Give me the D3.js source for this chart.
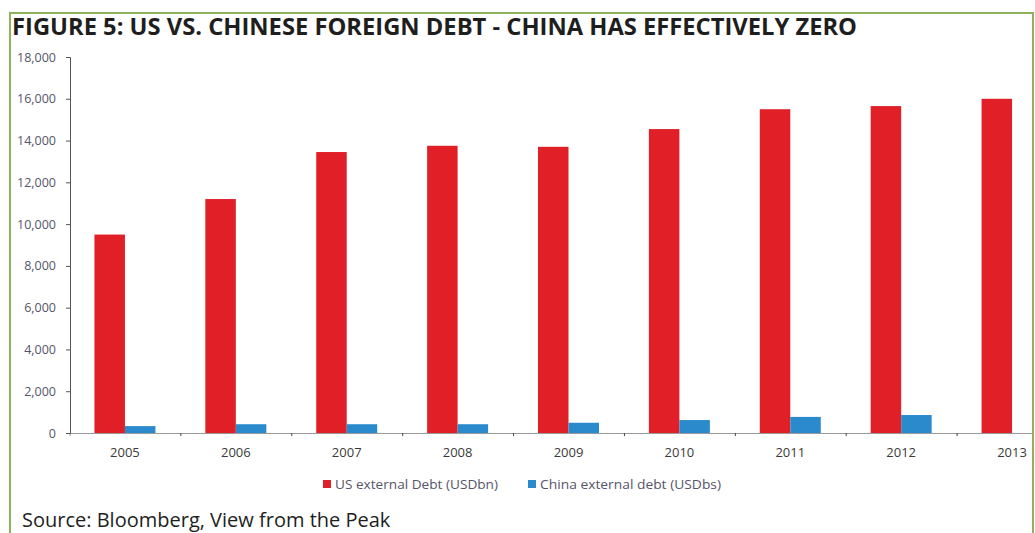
<!DOCTYPE html>
<html>
<head>
<meta charset="utf-8">
<script src="https://cdn.jsdelivr.net/npm/d3@7"></script>
<style>
  body { margin: 0; background: #fff; }
  svg { display: block; }
</style>
</head>
<body>
<div class="svgContainer"></div>
<script>
// chart data
const years = ['2005', '2006', '2007', '2008', '2009', '2010', '2011', '2012', '2013'];
const usDebt = [9500, 11200, 13450, 13750, 13700, 14550, 15500, 15650, 16000];
const chinaDebt = [330, 420, 420, 420, 490, 620, 770, 860, 0];
const seriesNames = ['US external Debt (USDbn)', 'China external debt (USDbs)'];
const yTicks = [0, 2000, 4000, 6000, 8000, 10000, 12000, 14000, 16000, 18000];

const width = 1035;
const height = 533;
const colors = ['#e01f27', '#2a8acb'];

const svg = d3.select('.svgContainer').append('svg')
  .attr('width', width)
  .attr('height', height);

// green frame round the figure
svg.append('rect')
  .attr('x', 10)
  .attr('y', 13)
  .attr('width', 1023)
  .attr('height', 540)
  .attr('fill', 'none')
  .attr('stroke', '#8fb35c')
  .attr('stroke-width', 2);

svg.append('text')
  .attr('x', 12)
  .attr('y', 35)
  .attr('textLength', 845)
  .attr('lengthAdjust', 'spacingAndGlyphs')
  .style('font-family', 'Open Sans')
  .style('font-weight', 'bold')
  .style('font-size', '22.5px')
  .attr('fill', '#1e1e1e')
  .text('FIGURE 5: US VS. CHINESE FOREIGN DEBT - CHINA HAS EFFECTIVELY ZERO');

const clip = svg.append('clipPath').attr('id', 'plotclip')
  .append('rect').attr('x', 0).attr('y', 0).attr('width', 1032).attr('height', height);

const g = svg.append('g').attr('clip-path', 'url(#plotclip)');

// scales
const scaleX = d3.scaleBand()
  .domain(years)
  .range([69.5, 1067.5])
  .paddingInner(0.45)
  .paddingOuter(0.225);

const scaleSeries = d3.scaleBand()
  .domain([0, 1])
  .range([0, scaleX.bandwidth()]);

const scaleY = d3.scaleLinear()
  .domain([0, 18000])
  .range([433, 57]);

// bars
const groups = g.selectAll('g.year')
  .data(years)
  .enter()
  .append('g')
  .attr('class', 'year')
  .attr('transform', d => 'translate(' + scaleX(d) + ',0)');

groups.selectAll('rect.bar')
  .data((d, i) => [usDebt[i], chinaDebt[i]])
  .enter()
  .append('rect')
  .attr('class', 'bar')
  .attr('x', (d, j) => scaleSeries(j))
  .attr('y', d => scaleY(d))
  .attr('width', scaleSeries.bandwidth())
  .attr('height', d => scaleY(0) - scaleY(d))
  .attr('fill', (d, j) => colors[j]);

// x axis: ticks sit between the categories
const step = scaleX.step();
const xEdges = d3.scaleLinear().domain([0, years.length]).range([69.5, 69.5 + step * years.length]);
const xAxis = d3.axisBottom(xEdges)
  .tickValues(d3.range(1, years.length))
  .tickSize(3)
  .tickFormat('');

const xg = g.append('g')
  .attr('transform', 'translate(0,433)')
  .call(xAxis);
xg.select('.domain').attr('stroke', '#9a9a9a');
xg.selectAll('.tick line').attr('stroke', '#444');

g.append('g')
  .selectAll('text')
  .data(years)
  .enter()
  .append('text')
  .attr('x', d => scaleX(d) + scaleX.bandwidth() / 2)
  .attr('y', 457)
  .attr('text-anchor', 'middle')
  .style('font-family', 'Open Sans')
  .style('font-size', '13px')
  .attr('fill', '#3a3a3a')
  .text(d => d);

// y axis
const yAxis = d3.axisLeft(scaleY)
  .tickValues(yTicks)
  .tickSize(4)
  .tickPadding(10)
  .tickFormat(d3.format(','));

const yg = svg.append('g')
  .attr('transform', 'translate(70,0)')
  .call(yAxis);
yg.select('.domain').attr('stroke', '#555');
yg.selectAll('.tick line').attr('stroke', '#555');
yg.selectAll('.tick text')
  .style('font-family', 'Open Sans')
  .style('font-size', '12.5px')
  .attr('fill', '#55556a');

// legend
const legendX = [323, 528];
const legendLen = [163, 181];
const legend = svg.append('g')
  .selectAll('g')
  .data(seriesNames)
  .enter()
  .append('g')
  .attr('transform', (d, i) => 'translate(' + legendX[i] + ',480)');

legend.append('rect')
  .attr('width', 8)
  .attr('height', 8)
  .attr('fill', (d, i) => colors[i]);

legend.append('text')
  .attr('x', 12)
  .attr('y', 8.5)
  .attr('textLength', (d, i) => legendLen[i])
  .attr('lengthAdjust', 'spacingAndGlyphs')
  .style('font-family', 'Open Sans')
  .style('font-size', '12.5px')
  .attr('fill', '#55556a')
  .text(d => d);

svg.append('text')
  .attr('x', 22)
  .attr('y', 527)
  .style('font-family', 'Open Sans')
  .style('font-size', '20px')
  .attr('fill', '#1e1e1e')
  .text('Source: Bloomberg, View from the Peak');
</script>
</body>
</html>
